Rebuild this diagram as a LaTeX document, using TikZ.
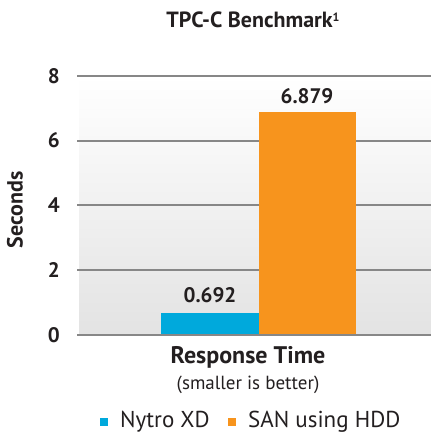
\documentclass[tikz,border=0pt]{standalone}
\usepackage{fontspec}
\setmainfont{PT Sans}
\usetikzlibrary{positioning,calc}
\definecolor{nytroblue}{HTML}{00A9DC}
\definecolor{sanorange}{HTML}{F7941D}
\definecolor{gridgray}{HTML}{878787}
\definecolor{inkgray}{HTML}{231F20}
\tikzset{
  ticklabel/.style={text=inkgray, font=\fontsize{21}{24}\selectfont\bfseries, anchor=east, inner sep=0pt},
  valuelabel/.style={text=inkgray, font=\fontsize{21}{26}\selectfont\bfseries, inner sep=0pt},
  gridline/.style={draw=gridgray, line width=2pt},
  legendtext/.style={text=inkgray, font=\fontsize{23}{26}\selectfont, anchor=west, inner sep=0pt}
}
\begin{document}
\begin{tikzpicture}[x=1pt,y=1pt]
\useasboundingbox (0,0) rectangle (431,434);
% plot area
\coordinate (origin) at (79,99);
\coordinate (topright) at (431,358.2);
\shade[top color=white, bottom color=black!11] (origin) rectangle (topright);
\foreach \v in {0,2,4,6,8}{
  \coordinate (gl\v) at (77,99+32.4*\v);
  \coordinate (gr\v) at (431,99+32.4*\v);
  \node[ticklabel] (tick\v) at ($ (gl\v) -(17,0) $) {\v};
}
\draw[gridline] (gl2) -- (gr2);
\draw[gridline] (gl4) -- (gr4);
\draw[gridline] (gl6) -- (gr6);
\draw[gridline] (gl8) -- (gr8);
% bars
\fill[nytroblue] (161,99) rectangle (259,99+32.4*0.692) coordinate (nytrotop);
\fill[sanorange] (259,99) rectangle (356,99+32.4*6.879) coordinate (santop);
\draw[gridline] (gl0) -- (gr0);
\node[valuelabel] (nytroval) at (210,139) {0.692};
\node[valuelabel] (sanval) at (307,338) {6.879};
% titles
\node[text=inkgray, font=\fontsize{22}{26}\selectfont\bfseries, inner sep=0pt] (title) at (253,414) {TPC-C Benchmark\raisebox{6pt}{\fontsize{12}{12}\selectfont 1}};
\node[text=inkgray, font=\fontsize{22}{26}\selectfont\bfseries, rotate=90, inner sep=0pt] (yaxis) at (15,224) {Seconds};
\node[text=inkgray, font=\fontsize{24}{28}\selectfont\bfseries, inner sep=0pt] (category) at (248,77) {Response Time};
\node[text=inkgray, font=\fontsize{19}{22}\selectfont, inner sep=0pt, below=8pt of category] (note) {(smaller is better)};
% legend
\fill[nytroblue] (100,8) rectangle (108,16) coordinate (nytrokey);
\node[legendtext] (nytroname) at (120,12) {Nytro XD};
\fill[sanorange] (228,8) rectangle (236,16) coordinate (sankey);
\node[legendtext] (sanname) at (248,12) {SAN using HDD};
\end{tikzpicture}
\end{document}
